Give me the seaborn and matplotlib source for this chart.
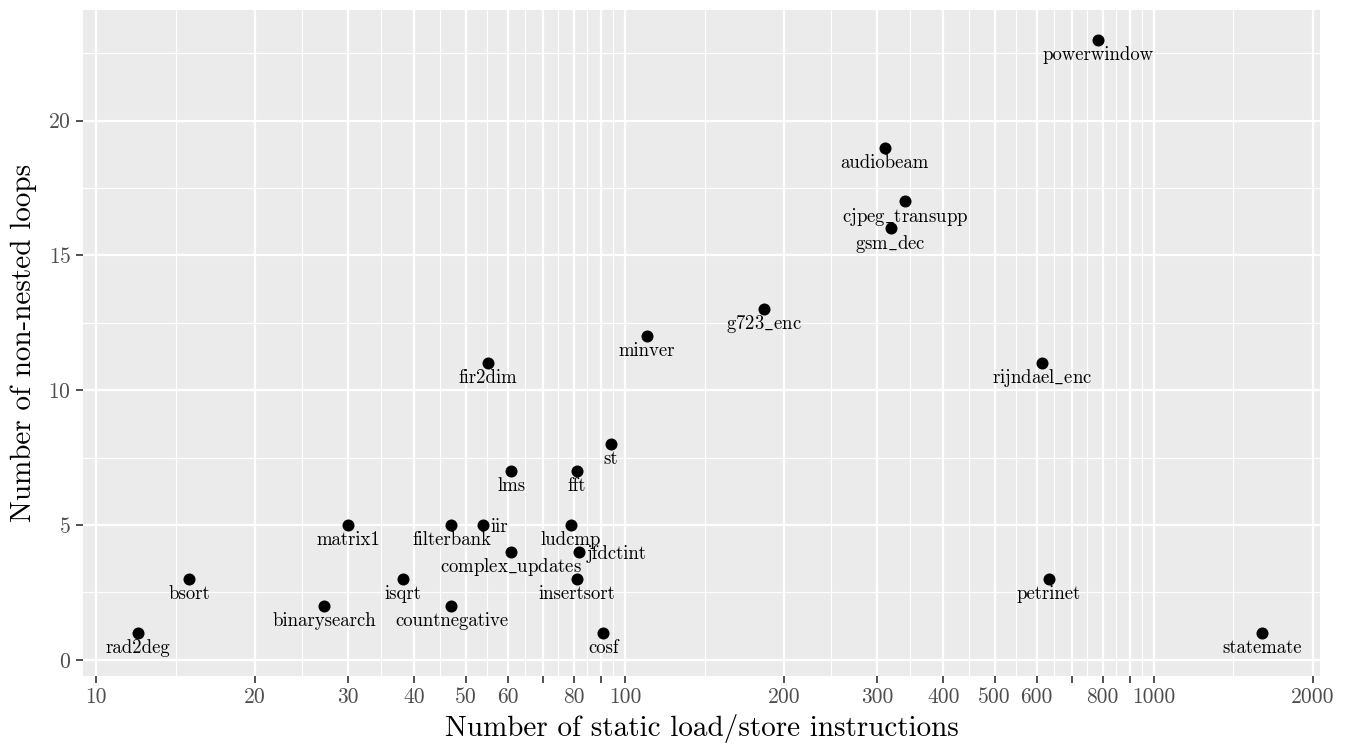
import numpy as np
import pandas as pd
import seaborn as sns
import matplotlib.pyplot as plt

# benchmark data
names = ['rad2deg', 'bsort', 'binarysearch', 'matrix1', 'isqrt', 'filterbank',
         'countnegative', 'iir', 'fir2dim', 'lms', 'complex_updates', 'ludcmp',
         'fft', 'insertsort', 'jfdctint', 'cosf', 'st', 'minver', 'g723_enc',
         'audiobeam', 'gsm_dec', 'cjpeg_transupp', 'rijndael_enc', 'petrinet',
         'powerwindow', 'statemate']
load_store = [12, 15, 27, 30, 38, 47, 47, 54, 55, 61, 61, 79, 81, 81, 82, 91,
              94, 110, 183, 310, 318, 339, 614, 633, 783, 1600]
loops = [1, 3, 2, 5, 3, 5, 2, 5, 11, 7, 4, 5, 7, 3, 4, 1, 8, 12, 13, 19, 16,
         17, 11, 3, 23, 1]

# labels placed to the right of the point instead of below it
right_labels = ['iir', 'jfdctint']

x_breaks = [10, 20, 30, 40, 50, 60, 70, 80, 90, 100, 200, 300, 400, 500, 600,
            700, 800, 900, 1000, 2000]
x_labels = ['10', '20', '30', '40', '50', '60', '', '80', '', '100', '200',
            '300', '400', '500', '600', '', '800', '', '1000', '2000']
y_breaks = [0, 5, 10, 15, 20]

df = pd.DataFrame({'name': names, 'x': load_store, 'y': loops})

plt.rcParams['font.family'] = ['cmr10', 'DejaVu Serif']
plt.rcParams['mathtext.fontset'] = 'cm'
plt.rcParams['axes.formatter.use_mathtext'] = True


def tex_label(s):
    # cmr10 has no plain underscore glyph, so go through mathtext
    if '_' in s:
        return r'$\mathrm{' + s.replace('_', r'\_') + '}$'
    return s


fig, ax = plt.subplots(figsize=(13.49, 7.45), dpi=100)
fig.subplots_adjust(left=83 / 1349, right=1320 / 1349, top=1 - 10 / 745,
                    bottom=1 - 676 / 745)
ax.set_facecolor('#EBEBEB')
for s in ax.spines.values():
    s.set_visible(False)

ax.set_xscale('log')
ax.set_xlim(9.45, 2061)
ax.set_ylim(-0.6, 24.1)

# ggplot-like grid: majors at breaks, minors at midpoints
lx = np.log10(x_breaks)
x_minor = 10 ** ((lx[:-1] + lx[1:]) / 2)
y_minor = [2.5, 7.5, 12.5, 17.5, 22.5]
for v in x_minor:
    ax.axvline(v, color='white', lw=0.8, zorder=0)
for v in y_minor:
    ax.axhline(v, color='white', lw=0.8, zorder=0)
for v in x_breaks:
    ax.axvline(v, color='white', lw=1.6, zorder=0)
for v in y_breaks:
    ax.axhline(v, color='white', lw=1.6, zorder=0)

sns.scatterplot(data=df, x='x', y='y', ax=ax, color='black', s=75,
                edgecolor='black', linewidth=0, zorder=3)

for n, xv, yv in zip(names, load_store, loops):
    if n in right_labels:
        ax.annotate(tex_label(n), (xv, yv), xytext=(5, -5),
                    textcoords='offset points', ha='left', va='baseline',
                    fontsize=13.5, zorder=4)
    else:
        ax.annotate(tex_label(n), (xv, yv), xytext=(0, -14.5),
                    textcoords='offset points', ha='center', va='baseline',
                    fontsize=13.5, zorder=4)

ax.set_xticks(x_breaks)
ax.set_xticklabels(x_labels)
ax.xaxis.set_minor_locator(plt.NullLocator())
ax.set_yticks(y_breaks)
ax.tick_params(axis='both', colors='#333333', labelcolor='#4D4D4D',
               labelsize=15.5, length=5, width=1.2)

ax.set_xlabel('Number of static load/store instructions', fontsize=21,
              color='black', labelpad=5)
ax.set_ylabel('Number of non-nested loops', fontsize=21, color='black',
              labelpad=8)

fig.savefig('out.png', dpi=100)
